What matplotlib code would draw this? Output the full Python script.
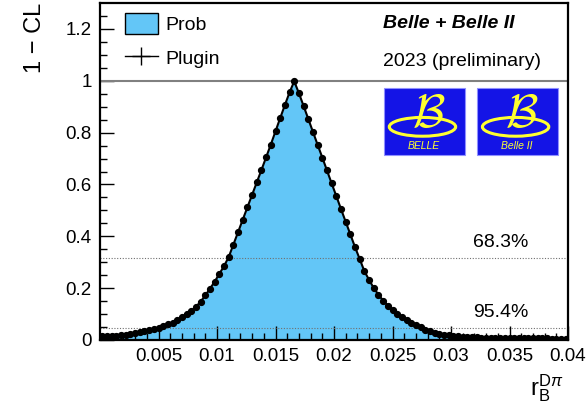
import numpy as np
import matplotlib
matplotlib.use("Agg")
import matplotlib.pyplot as plt
from matplotlib.patches import Rectangle, Ellipse, Patch
from matplotlib.lines import Line2D

plt.rcParams['font.family'] = ['Liberation Sans', 'DejaVu Sans']
plt.rcParams['mathtext.fontset'] = 'custom'
plt.rcParams['mathtext.rm'] = 'Liberation Sans'
plt.rcParams['mathtext.it'] = 'Liberation Sans:italic'

# scan of r_B^{D pi}: 100 bins over [0, 0.04]
bin_width = 0.0004
one_minus_cl = [
    0.014, 0.015, 0.016, 0.017, 0.019, 0.021, 0.024, 0.027, 0.030, 0.034,
    0.038, 0.042, 0.047, 0.053, 0.060, 0.067, 0.077, 0.088, 0.099, 0.112,
    0.128, 0.148, 0.172, 0.198, 0.225, 0.255, 0.285, 0.320, 0.368, 0.416,
    0.464, 0.512, 0.560, 0.608, 0.656, 0.705, 0.754, 0.805, 0.856, 0.906,
    0.955, 0.998, 0.952, 0.903, 0.853, 0.803, 0.753, 0.704, 0.654, 0.604,
    0.555, 0.505, 0.456, 0.407, 0.358, 0.312, 0.265, 0.232, 0.200, 0.175,
    0.152, 0.133, 0.117, 0.102, 0.089, 0.078, 0.066, 0.057, 0.049, 0.040,
    0.033, 0.028, 0.024, 0.021, 0.019, 0.017, 0.015, 0.013, 0.012, 0.011,
    0.010, 0.0095, 0.009, 0.0085, 0.008, 0.008, 0.0078, 0.0075, 0.0072, 0.007,
    0.0068, 0.0066, 0.0064, 0.0062, 0.006, 0.0058, 0.0056, 0.0054, 0.0052, 0.005,
]
r_b = (np.arange(len(one_minus_cl)) + 0.5) * bin_width

cl_levels = [0.317, 0.046]
cl_labels = ["68.3%", "95.4%"]

x_ticks = [0.005, 0.01, 0.015, 0.02, 0.025, 0.03, 0.035, 0.04]
x_tick_labels = ["0.005", "0.01", "0.015", "0.02", "0.025", "0.03", "0.035", "0.04"]
y_ticks = [0, 0.2, 0.4, 0.6, 0.8, 1.0, 1.2]
y_tick_labels = ["0", "0.2", "0.4", "0.6", "0.8", "1", "1.2"]

fill_col = '#63c6f7'

fig = plt.figure(figsize=(5.88, 4.08), dpi=100)
ax = fig.add_axes([100 / 588, 68 / 408, 468 / 588, 337 / 408])

ax.fill_between(r_b, one_minus_cl, color=fill_col, linewidth=0, zorder=1)
ax.plot(r_b, one_minus_cl, color='k', lw=1.5, zorder=3)
ax.errorbar(r_b, one_minus_cl, xerr=bin_width / 2, fmt='o', color='k',
            ms=4.2, lw=1.2, zorder=4)

ax.axhline(1.0, color='#808080', lw=1.5, zorder=2)
for lev in cl_levels:
    ax.axhline(lev, color='#707070', lw=0.8, ls=(0, (1, 1.5)), zorder=2)
ax.text(0.857, 0.288, cl_labels[0], transform=ax.transAxes, ha='center',
        va='center', fontsize=14)
ax.text(0.857, 0.083, cl_labels[1], transform=ax.transAxes, ha='center',
        va='center', fontsize=14)

ax.set_xlim(0, 0.04)
ax.set_ylim(0, 1.3)
ax.set_xticks(x_ticks, x_tick_labels)
ax.set_yticks(y_ticks, y_tick_labels)
ax.set_xticks(np.arange(0.001, 0.04, 0.001), minor=True)
ax.set_yticks(np.arange(0.05, 1.3, 0.05), minor=True)
ax.tick_params(which='both', direction='in', top=False, right=False,
               labelsize=13.5, width=1)
ax.tick_params(which='major', length=10, pad=6)
ax.tick_params(which='minor', length=5)
for s in ax.spines.values():
    s.set_linewidth(1.6)

# legend
handles = [Patch(facecolor=fill_col, edgecolor='k', lw=1),
           Line2D([], [], color='k', lw=1, marker='+', ms=13, mew=1)]
ax.legend(handles, ["Prob", "Plugin"], loc='upper left',
          bbox_to_anchor=(0.053, 0.97), frameon=False, fontsize=14,
          handlelength=1.7, handleheight=1.25, handletextpad=0.4,
          labelspacing=0.7, borderpad=0, borderaxespad=0)

ax.text(0.604, 0.938, "Belle + Belle II", transform=ax.transAxes,
        fontsize=14, fontweight='bold', style='italic', va='center')
ax.text(0.604, 0.825, "2023 (preliminary)", transform=ax.transAxes,
        fontsize=14, va='center')

# logos
logos = [(0.606, "BELLE"), (0.805, "Belle II")]
for x0, name in logos:
    w, h = 0.173, 0.199
    y0 = 0.549
    ax.add_patch(Rectangle((x0, y0), w, h, transform=ax.transAxes,
                           facecolor='#1414e6', edgecolor='#9090ff', lw=0.8, zorder=5))
    ax.add_patch(Ellipse((x0 + w * 0.48, y0 + h * 0.42), w * 0.82, h * 0.28,
                         transform=ax.transAxes, fill=False, edgecolor='#ffff30',
                         lw=2.2, zorder=6))
    ax.text(x0 + w * 0.56, y0 + h * 0.6, r'$\mathcal{B}$', transform=ax.transAxes,
            ha='center', va='center', fontsize=34, color='#ffff30',
            math_fontfamily='cm', zorder=7)
    ax.text(x0 + w * 0.5, y0 + h * 0.13, name, transform=ax.transAxes,
            ha='center', va='center', fontsize=7.5, style='italic',
            color='#ffff30', zorder=7)

fig.text(35 / 588, 1 - 38 / 408, "1 \u2212 CL", rotation=90, ha='center',
         va='center', fontsize=17)
fig.text(563 / 588, 1 - 388 / 408, r'$\mathrm{r}_{\mathrm{B}}^{\mathrm{D}\pi}$',
         ha='right', va='center', fontsize=17)

fig.savefig("out.png", dpi=100)
